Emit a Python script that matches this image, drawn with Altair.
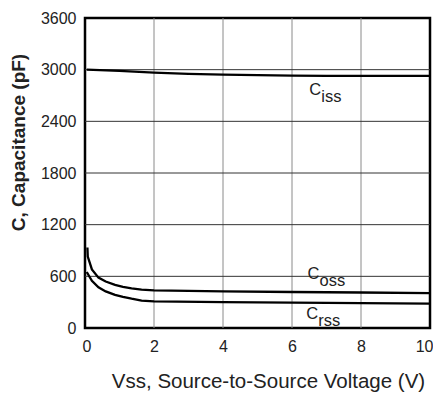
import altair as alt
import pandas as pd

# ---- data ----
ciss_v = [0.05, 1, 2, 3, 4, 5, 6, 7, 8, 9, 10]
ciss_c = [3000, 2985, 2965, 2952, 2942, 2936, 2931, 2928, 2927, 2927, 2927]

coss_v = [0.07, 0.08, 0.2, 0.39, 0.6, 0.87, 1.1, 1.35, 1.64, 2, 4, 6, 8, 10]
coss_c = [935, 830, 680, 585, 540, 500, 478, 460, 446, 436, 426, 418, 412, 406]

crss_v = [0.05, 0.2, 0.39, 0.6, 0.87, 1.1, 1.35, 1.64, 2, 4, 6, 8, 10]
crss_c = [650, 548, 472, 425, 385, 362, 340, 318, 309, 300, 294, 289, 284]

x_ticks = [0, 2, 4, 6, 8, 10]
y_ticks = [0, 600, 1200, 1800, 2400, 3000, 3600]
x_grid = [2, 4, 6, 8]
y_grid = [600, 1200, 1800, 2400, 3000]

label_main = ["C", "C", "C"]
label_sub = ["iss", "oss", "rss"]
label_v = [6.5, 6.45, 6.41]
label_c = [2705, 571, 99]

FONT = "Liberation Sans"

rows = []
for name, vs, cs in [("Ciss", ciss_v, ciss_c), ("Coss", coss_v, coss_c), ("Crss", crss_v, crss_c)]:
    for v, c in zip(vs, cs):
        rows.append({"series": name, "V": v, "C": c})
df = pd.DataFrame(rows)
lab = pd.DataFrame({"main": label_main, "sub": label_sub, "V": label_v, "C": label_c})

xs = alt.Scale(domain=[0, 10], nice=False, zero=False)
ys = alt.Scale(domain=[0, 3600], nice=False, zero=False)

xgrid = alt.Chart(pd.DataFrame({"V": x_grid})).mark_rule(color="#8a8a8a", strokeWidth=1).encode(
    x=alt.X("V:Q", scale=xs, axis=alt.Axis(
        values=x_ticks, format="d", title="Vss, Source-to-Source Voltage (V)", grid=False, domain=False, ticks=False,
        labelFontSize=16, labelPadding=10, labelColor="#222", labelFont=FONT,
        labelFlush=True, labelFlushOffset=3,
        titleFontSize=20.5, titleFontWeight="normal", titleColor="#222", titleFont=FONT,
        titleX=183, titleY=53, titleBaseline="middle", titleAlign="center")))
ygrid = alt.Chart(pd.DataFrame({"C": y_grid})).mark_rule(color="#333", strokeWidth=1).encode(
    y=alt.Y("C:Q", scale=ys, axis=alt.Axis(
        values=y_ticks, format="d", title="C, Capacitance (pF)", grid=False, domain=False, ticks=False,
        labelFontSize=16, labelPadding=9, labelColor="#222", labelFont=FONT,
        titleFontSize=19, titleFontWeight="bold", titleColor="#222", titleFont=FONT,
        titleX=-67, titleY=124, titleAngle=-90, titleBaseline="middle", titleAlign="center",
        labelFlush=False)))

lines = alt.Chart(df).mark_line(color="black", strokeWidth=2.3).encode(
    x=alt.X("V:Q", scale=xs), y=alt.Y("C:Q", scale=ys), detail="series:N")

cm = alt.Chart(lab).mark_text(align="left", baseline="alphabetic", fontSize=16.5, font=FONT, color="#222").encode(
    x=alt.X("V:Q", scale=xs), y=alt.Y("C:Q", scale=ys), text="main:N")
sm = alt.Chart(lab).mark_text(align="left", baseline="alphabetic", fontSize=16.5, font=FONT, color="#222",
                              dx=12, dy=6.7).encode(
    x=alt.X("V:Q", scale=xs), y=alt.Y("C:Q", scale=ys), text="sub:N")

chart = alt.layer(xgrid, ygrid, lines, cm, sm).properties(
    width=345, height=310,
    autosize=alt.AutoSizeParams(type="none"),
    padding={"left": 77, "top": 10, "right": 3, "bottom": 65},
).configure_view(stroke="black", strokeWidth=2.5)

chart.save("out.html", embed_options={"renderer": "svg", "actions": False})
